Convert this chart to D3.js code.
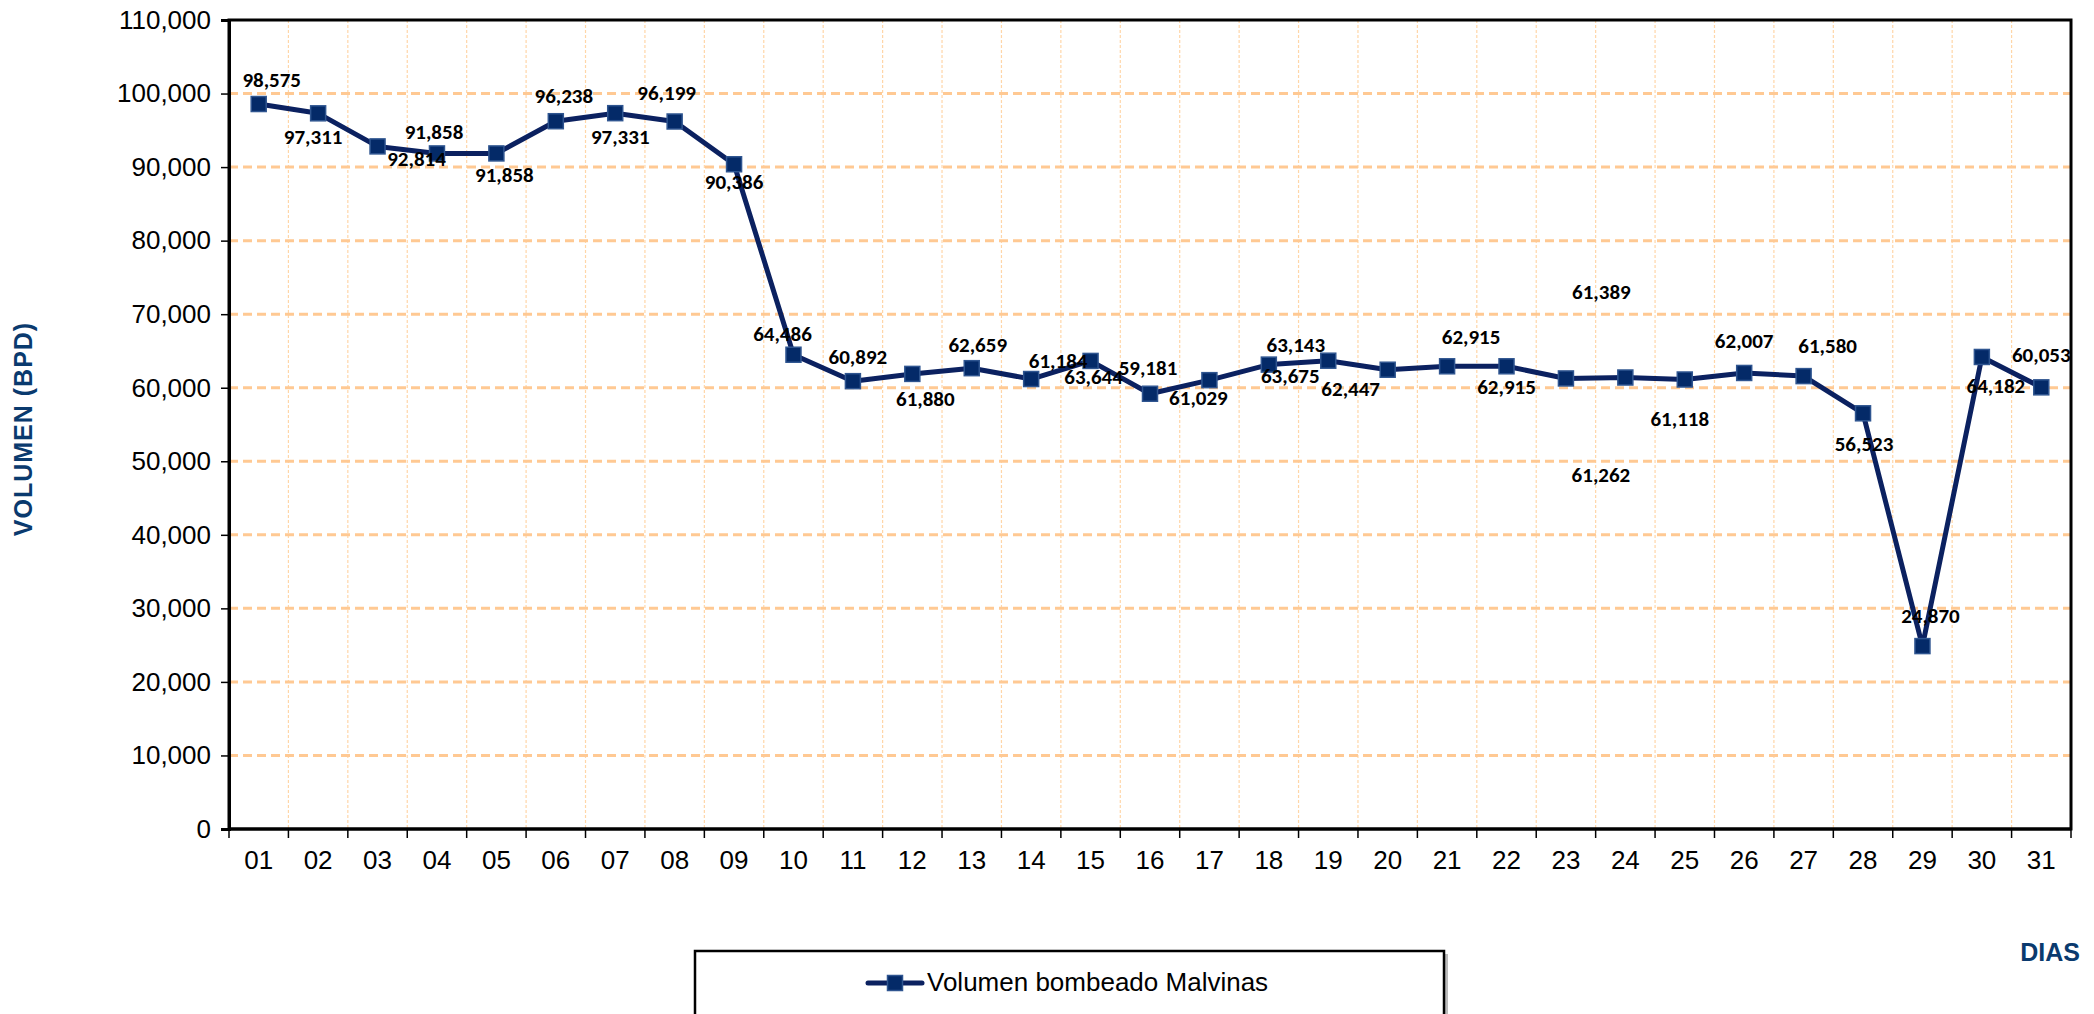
<!DOCTYPE html>
<html>
<head>
<meta charset="utf-8">
<script src="https://cdn.jsdelivr.net/npm/d3@7"></script>
<style>
  html, body { margin: 0; padding: 0; background: #fff; overflow: hidden; }
  svg { display: block; }
</style>
</head>
<body>
<svg id="chart" width="2094" height="1014"></svg>
<script>
// ---- data ----
const days = ["01","02","03","04","05","06","07","08","09","10","11","12","13","14","15","16",
              "17","18","19","20","21","22","23","24","25","26","27","28","29","30","31"];
const volumes = [98575, 97311, 92814, 91858, 91858, 96238, 97331, 96199, 90386, 64486,
                 60892, 61880, 62659, 61184, 63644, 59181, 61029, 63143, 63675, 62447,
                 62915, 62915, 61262, 61389, 61118, 62007, 61580, 56523, 24870, 64182, 60053];
const yTickValues = [0, 10000, 20000, 30000, 40000, 50000, 60000, 70000, 80000, 90000, 100000, 110000];
const seriesName = "Volumen bombeado Malvinas";
const yTitle = "VOLUMEN (BPD)";
const xTitle = "DIAS";

// ---- layout of data labels (offsets from each point, px) ----
const labelDx = [13, -5, 39, -3, 8, 8, 5, -8, 0, -11, 5, 13, 6, 27, 3, -2, -11, 27, -38, -37,
                 24, 0, 35, -24, -5, 0, 24, 1, 8, 14, 0];
const labelDy = [-22, 26, 15, -20, 23, -23, 26, -27, 20, -19, -22, 27, -21, -16, 18, -24, 20, -18, 17, 21,
                 -27, 23, 98, -84, 41, -30, -28, 33, -28, 31, -30];

// ---- geometry ----
const plot = { left: 229, right: 2071, top: 20, bottom: 829 };
const navy = "#0b2160";
const titleBlue = "#0a3a6e";

const svg = d3.select("#chart");

const x = d3.scaleBand().domain(days).range([plot.left, plot.right]).padding(0);
const y = d3.scaleLinear().domain([0, 110000]).range([plot.bottom, plot.top]);

// vertical gridlines at band boundaries
const boundaries = days.slice(1).map(d => x(d));
svg.append("g").selectAll("line").data(boundaries).join("line")
  .attr("x1", d => d).attr("x2", d => d)
  .attr("y1", plot.top).attr("y2", plot.bottom)
  .attr("stroke", "#ffd6a8").attr("stroke-width", 1.2)
  .attr("stroke-dasharray", "3,2");

// horizontal gridlines
svg.append("g").selectAll("line").data(yTickValues.filter(v => v > 0 && v < 110000)).join("line")
  .attr("x1", plot.left).attr("x2", plot.right)
  .attr("y1", d => y(d)).attr("y2", d => y(d))
  .attr("stroke", "#ffc993").attr("stroke-width", 3)
  .attr("stroke-dasharray", "9,5");

// plot border
svg.append("rect")
  .attr("x", plot.left).attr("y", plot.top)
  .attr("width", plot.right - plot.left).attr("height", plot.bottom - plot.top)
  .attr("fill", "none").attr("stroke", "#000").attr("stroke-width", 3);

// y axis
const yAxis = d3.axisLeft(y).tickValues(yTickValues).tickFormat(d3.format(",")).tickSize(8).tickPadding(10);
const gy = svg.append("g").attr("transform", `translate(${plot.left},0)`).call(yAxis);
gy.select(".domain").attr("stroke", "#000").attr("stroke-width", 3);
gy.selectAll(".tick line").attr("stroke", "#000").attr("stroke-width", 1.5);
gy.selectAll(".tick text")
  .attr("font-family", "'Liberation Sans', Arial, sans-serif")
  .attr("font-size", 26).attr("fill", "#000");

// x axis: ticks at band boundaries, labels centred
const gx = svg.append("g").attr("transform", `translate(0,${plot.bottom})`);
gx.append("line").attr("x1", plot.left).attr("x2", plot.right).attr("y1", 0).attr("y2", 0)
  .attr("stroke", "#000").attr("stroke-width", 3);
gx.selectAll("line.tk").data([plot.left, ...boundaries, plot.right]).join("line").attr("class", "tk")
  .attr("x1", d => d).attr("x2", d => d).attr("y1", 0).attr("y2", 9)
  .attr("stroke", "#000").attr("stroke-width", 1.5);
gx.selectAll("text").data(days).join("text")
  .attr("x", d => x(d) + x.bandwidth() / 2)
  .attr("y", 33)
  .attr("text-anchor", "middle").attr("dominant-baseline", "middle")
  .attr("font-family", "'Liberation Sans', Arial, sans-serif")
  .attr("font-size", 26).attr("fill", "#000")
  .text(d => d);

// line
const cx = (d, i) => x(days[i]) + x.bandwidth() / 2;
const line = d3.line().x((d, i) => cx(d, i)).y(d => y(d));
svg.append("path").datum(volumes)
  .attr("d", line).attr("fill", "none")
  .attr("stroke", navy).attr("stroke-width", 5).attr("stroke-linejoin", "round");

// markers
const ms = 15;
svg.append("g").selectAll("rect").data(volumes).join("rect")
  .attr("x", (d, i) => cx(d, i) - ms / 2)
  .attr("y", d => y(d) - ms / 2)
  .attr("width", ms).attr("height", ms)
  .attr("fill", "#042a68").attr("stroke", "#2f5590").attr("stroke-width", 1.5);

// data labels
svg.append("g").selectAll("text").data(volumes).join("text")
  .attr("x", (d, i) => cx(d, i) + labelDx[i])
  .attr("y", (d, i) => y(d) + labelDy[i])
  .attr("text-anchor", "middle").attr("dominant-baseline", "middle")
  .attr("font-family", "Carlito, Calibri, 'Liberation Sans Narrow', 'Open Sans', sans-serif")
  .attr("font-weight", "bold").attr("font-size", 21).attr("fill", "#000")
  .text(d => d3.format(",")(d));

// axis titles
svg.append("text")
  .attr("transform", `translate(25,429) rotate(-90)`)
  .attr("text-anchor", "middle").attr("dominant-baseline", "middle")
  .attr("font-family", "'Liberation Sans', Arial, sans-serif")
  .attr("font-weight", "bold").attr("font-size", 25).attr("letter-spacing", 1)
  .attr("fill", titleBlue).text(yTitle);

svg.append("text")
  .attr("x", 2080).attr("y", 954)
  .attr("text-anchor", "end").attr("dominant-baseline", "middle")
  .attr("font-family", "'Liberation Sans', Arial, sans-serif")
  .attr("font-weight", "bold").attr("font-size", 25)
  .attr("fill", titleBlue).text(xTitle);

// legend
const lg = svg.append("g");
lg.append("rect").attr("x", 698).attr("y", 954).attr("width", 750).attr("height", 80)
  .attr("fill", "#bbb");
lg.append("rect").attr("x", 695).attr("y", 951).attr("width", 749).attr("height", 80)
  .attr("fill", "#fff").attr("stroke", "#000").attr("stroke-width", 2.5);
lg.append("line").attr("x1", 868).attr("x2", 922).attr("y1", 983).attr("y2", 983)
  .attr("stroke", navy).attr("stroke-width", 5).attr("stroke-linecap", "round");
lg.append("rect").attr("x", 895 - ms / 2).attr("y", 983 - ms / 2).attr("width", ms).attr("height", ms)
  .attr("fill", "#042a68").attr("stroke", "#2f5590").attr("stroke-width", 1.5);
lg.append("text").attr("x", 927).attr("y", 984)
  .attr("dominant-baseline", "middle")
  .attr("font-family", "'Liberation Sans', Arial, sans-serif")
  .attr("font-size", 26).attr("fill", "#000").text(seriesName);
</script>
</body>
</html>
